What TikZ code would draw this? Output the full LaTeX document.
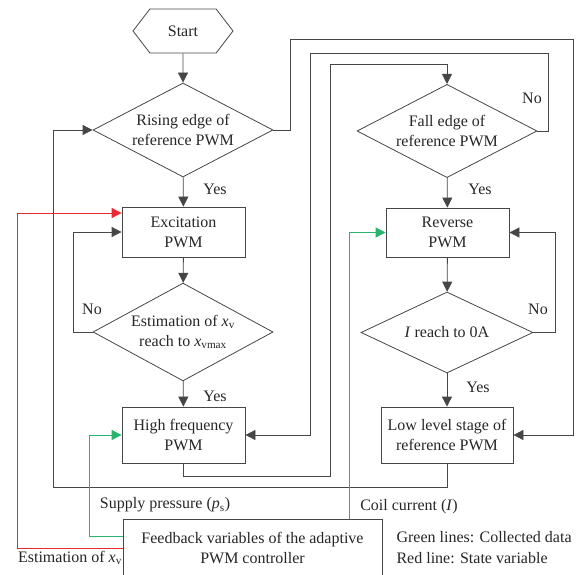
\documentclass[tikz,border=0pt]{standalone}
\usepackage{fontspec}
\setmainfont{Liberation Serif}
\usetikzlibrary{shapes.geometric,shapes.symbols,arrows.meta}
\definecolor{linegray}{RGB}{70,70,70}
\definecolor{datagreen}{RGB}{40,180,110}
\definecolor{statered}{RGB}{235,40,50}
\begin{document}
\begin{tikzpicture}[x=1pt,y=-1pt,
  every node/.style={font=\fontsize{16}{20}\selectfont, text=black!85},
  flow/.style={draw=linegray, line width=0.8pt, -{Triangle[length=10pt,width=10pt]}},
  box/.style={draw=linegray, line width=0.8pt, rectangle, align=center, minimum width=123pt, inner sep=2pt},
  decision/.style={draw=linegray, line width=0.8pt, diamond, inner sep=-10pt, align=center}]
\useasboundingbox (0,0) rectangle (578,575);
\node[draw=linegray, line width=0.8pt, signal, signal to=east and west, signal pointer angle=105, minimum width=100pt, minimum height=44pt, inner sep=0pt] (start) at (183,31) {Start};
\node[decision, minimum width=180pt, minimum height=94pt] (rise) at (183,130) {Rising edge of\\reference PWM};
\node[box, minimum height=50pt] (excite) at (183.5,232) {Excitation\\PWM};
\node[decision, minimum width=180pt, minimum height=90pt] (est) at (183,332) {Estimation of \textit{x}\textsubscript{v}\\reach to \textit{x}\textsubscript{vmax}};
\node[box, minimum height=56pt] (hifreq) at (183.5,435) {High frequency\\PWM};
\node[decision, minimum width=180pt, minimum height=82pt] (fall) at (447,131) {Fall edge of\\reference PWM};
\node[box, minimum height=49pt] (reverse) at (447.5,232.5) {Reverse\\PWM};
\node[decision, minimum width=172pt, minimum height=81pt] (zero) at (447,332.5) {\textit{I} reach to 0A};
\node[box, minimum width=132pt, minimum height=56pt] (lowlvl) at (447,435) {Low level stage of\\reference PWM};
\node[box, minimum width=259pt, minimum height=58pt] (feedback) at (252.5,548) {Feedback variables of the adaptive\\PWM controller};
\node (yes1) at (215,189) {Yes};
\node (yes2) at (215,396) {Yes};
\node (yes3) at (480,189) {Yes};
\node (yes4) at (478,387) {Yes};
\node (no1) at (92,309) {No};
\node (no2) at (532,98) {No};
\node (no3) at (538,309) {No};
\node (supply) at (165,505) {Supply pressure (\textit{p}\textsubscript{s})};
\node (coil) at (409,507) {Coil current (\textit{I})};
\node (xvest) at (70,558) {Estimation of \textit{x}\textsubscript{v}};
\node[anchor=west] (greenkey) at (393,537) {Green lines: Collected data};
\node[anchor=west] (redkey) at (393,558) {Red line: State variable};
\draw[flow] (start) -- (rise);
\draw[flow] (rise) -- (excite);
\draw[flow] (excite) -- (est);
\draw[flow] (est) -- (hifreq);
\draw[flow] (est.west) -- (73,332) |- (excite.west);
\draw[flow] (fall) -- (reverse);
\draw[flow] (reverse) -- (zero);
\draw[flow] (zero) -- (lowlvl);
\draw[flow] (zero.east) -- (555,332.5) |- (reverse.east);
\draw[flow] (rise.east) -| (290,39) -| (573,435) -- (lowlvl.east);
\draw[flow] (fall.east) -| (548,53) -| (310,435) -- (hifreq.east);
\draw[flow] (hifreq.south) |- (330,476) |- ([yshift=20pt]fall.north) -- (fall.north);
\draw[flow] (lowlvl.south) |- (53,487) |- (rise.west);
\draw[flow, datagreen] ([xshift=96.5pt]feedback.north) |- (reverse.west);
\draw[flow, datagreen] ([yshift=12pt]feedback.west) -- (89,536) |- (hifreq.west);
\draw[flow, statered] (feedback.west) -- (17,548) |- ([yshift=19pt]excite.west);
\end{tikzpicture}
\end{document}
